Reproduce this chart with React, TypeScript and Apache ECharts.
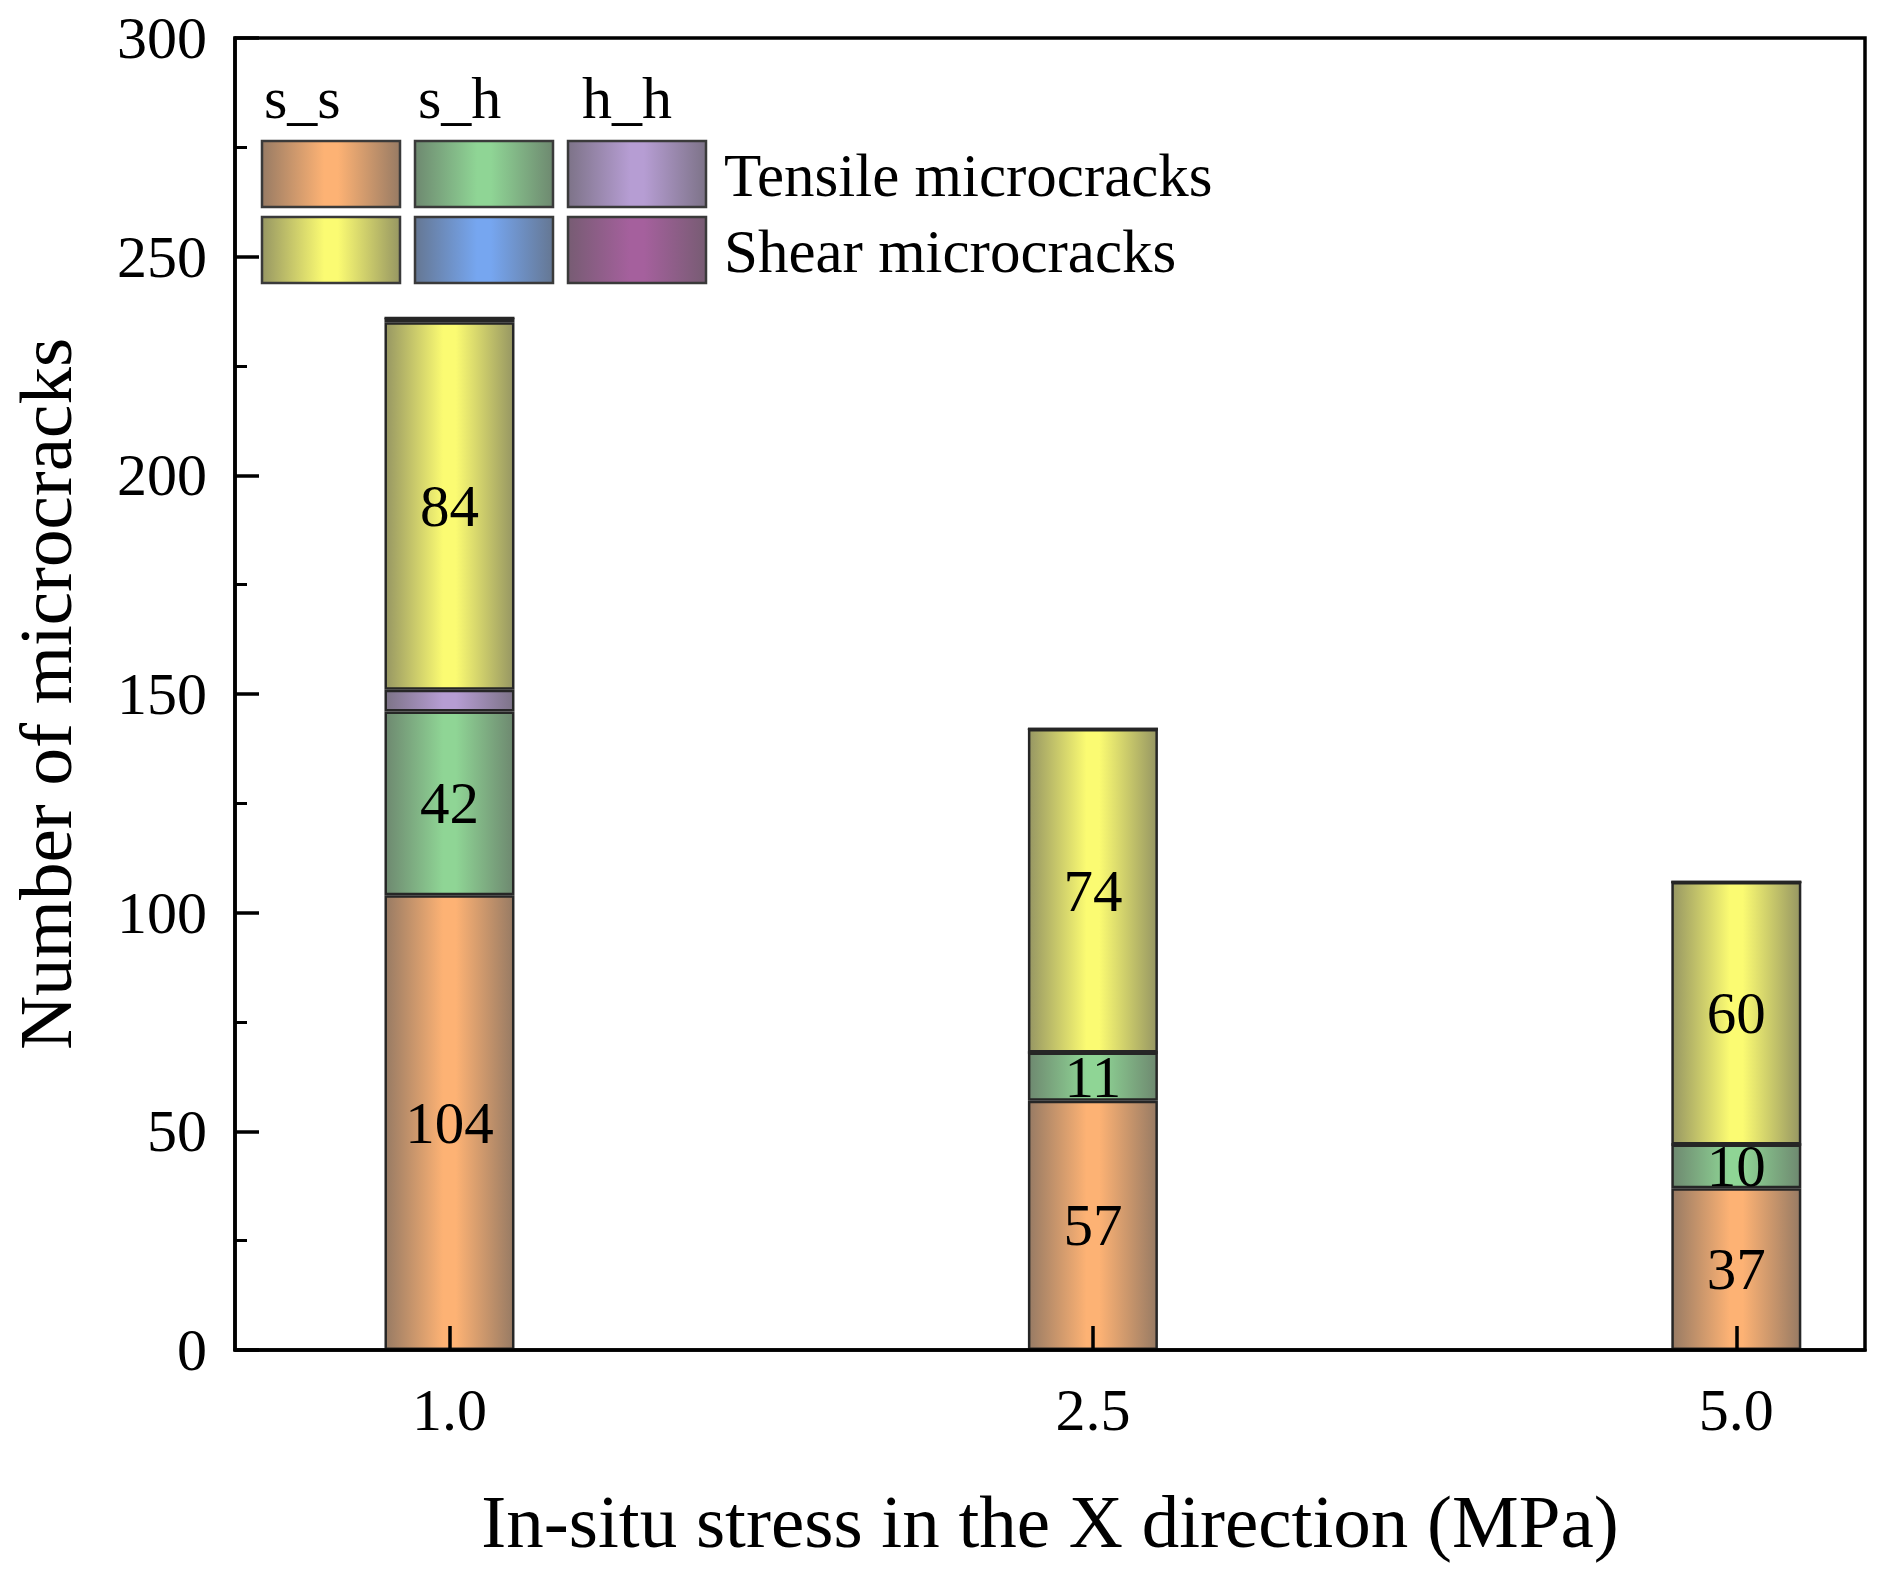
import React, { useEffect, useRef } from "react";
import * as echarts from "echarts";

const categories = ["1.0", "2.5", "5.0"];
const tensileSS = [104, 57, 37];
const tensileSH = [42, 11, 10];
const tensileHH = [5, 0, 0];
const shearSS = [84, 74, 60];
const shearSH = [1, 0, 0];
const shearHH = [0, 0, 0];
const yTicks = [0, 50, 100, 150, 200, 250, 300];
const legendCols = ["s_s", "s_h", "h_h"];
const legendRows = ["Tensile microcracks", "Shear microcracks"];

const COLORS = {
  tss: "#FDB274",
  tsh: "#8FD595",
  thh: "#B69DD3",
  sss: "#FBFB72",
  ssh: "#76A6F0",
  shh: "#A5609D",
};

const FONT = '"Liberation Serif", "Times New Roman", serif';

function mix(hex: string, other: string, t: number) {
  const p = (h: string) => [1, 3, 5].map((i) => parseInt(h.slice(i, i + 2), 16));
  const a = p(hex);
  const b = p(other);
  const c = a.map((v, i) => Math.round(v * (1 - t) + b[i] * t));
  return "#" + c.map((v) => v.toString(16).padStart(2, "0")).join("");
}

function grad(hex: string) {
  const edge = mix(hex, "#5a5a5a", 0.62);
  return new echarts.graphic.LinearGradient(0, 0, 1, 0, [
    { offset: 0, color: edge },
    { offset: 0.45, color: hex },
    { offset: 0.55, color: hex },
    { offset: 1, color: edge },
  ]);
}

export default function App() {
  const ref = useRef<HTMLDivElement>(null);
  useEffect(() => {
    if (!ref.current) return;
    const chart = echarts.init(ref.current, null, { renderer: "svg" });

    const mk = (name: string, data: number[], color: string, showLabel: boolean) => ({
      type: "bar",
      name,
      stack: "total",
      barWidth: 130,
      dimensions: ["count", "pos"],
      encode: { x: 1, y: 0 },
      data: data.map((v, i) => [v, i]),
      itemStyle: { color: grad(color), borderColor: "#262626", borderWidth: 2.5 },
      label: {
        show: showLabel,
        position: "inside",
        color: "#000",
        fontSize: 59,
        fontFamily: FONT,
        formatter: (p: any) => String(p.value[0]),
      },
      emphasis: { disabled: true },
      silent: true,
    });

    // Legend graphic
    const colX = [262, 415, 568];
    const rowY = [141, 217];
    const rw = 138;
    const rh = 66;
    const legendColors = [
      [COLORS.tss, COLORS.tsh, COLORS.thh],
      [COLORS.sss, COLORS.ssh, COLORS.shh],
    ];
    const graphics: any[] = [];
    legendRows.forEach((row, r) => {
      legendCols.forEach((_c, c) => {
        graphics.push({
          type: "rect",
          shape: { x: colX[c], y: rowY[r], width: rw, height: rh },
          style: { fill: grad(legendColors[r][c]), stroke: "#3a3a3a", lineWidth: 2.5 },
          silent: true,
        });
      });
      graphics.push({
        type: "text",
        x: 724,
        y: rowY[r] + rh / 2 + 1,
        style: {
          text: row,
          font: `61px ${FONT}`,
          fill: "#000",
          textAlign: "left",
          textVerticalAlign: "middle",
        },
      });
    });
    const headX = [264, 418, 582];
    legendCols.forEach((c, i) => {
      graphics.push({
        type: "text",
        x: headX[i],
        y: 98,
        style: {
          text: c,
          font: `60px ${FONT}`,
          fill: "#000",
          textAlign: "left",
          textVerticalAlign: "middle",
        },
      });
    });

    chart.setOption({
      animation: false,
      backgroundColor: "#fff",
      grid: {
        left: 231,
        right: 23,
        top: 38,
        bottom: 235,
        show: true,
        borderColor: "#000",
        borderWidth: 3.5,
        backgroundColor: "transparent",
      },
      xAxis: {
        type: "value",
        z: 10,
        min: -1 / 3,
        max: 2.2,
        name: "In-situ stress in the X direction (MPa)",
        nameLocation: "middle",
        nameGap: 134,
        nameTextStyle: { fontSize: 75, fontFamily: FONT, color: "#000" },
        axisLine: { show: true, onZero: false, lineStyle: { color: "#000", width: 3.5 } },
        axisTick: {
          show: true,
          inside: true,
          length: 24,
          customValues: [0, 1, 2],
          lineStyle: { color: "#000", width: 3.5 },
        },
        axisLabel: {
          customValues: [0, 1, 2],
          formatter: (v: number) => categories[Math.round(v)] ?? "",
          fontSize: 60,
          fontFamily: FONT,
          color: "#000",
          margin: 30,
        },
        splitLine: { show: false },
      },
      yAxis: {
        type: "value",
        z: 10,
        min: 0,
        max: 300,
        interval: 50,
        name: "Number of microcracks",
        nameLocation: "middle",
        nameGap: 152,
        nameTextStyle: { fontSize: 75, fontFamily: FONT, color: "#000" },
        axisLine: { show: true, onZero: false, lineStyle: { color: "#000", width: 3.5 } },
        axisTick: { show: true, inside: true, length: 24, lineStyle: { color: "#000", width: 3.5 } },
        minorTick: { show: true, splitNumber: 2, length: 12, lineStyle: { color: "#000", width: 3 } },
        axisLabel: {
          fontSize: 60,
          fontFamily: FONT,
          color: "#000",
          margin: 28,
          formatter: (v: number) => (yTicks.includes(v) ? String(v) : ""),
        },
        splitLine: { show: false },
      },
      series: [
        mk("Tensile s_s", tensileSS, COLORS.tss, true),
        mk("Tensile s_h", tensileSH, COLORS.tsh, true),
        mk("Tensile h_h", tensileHH, COLORS.thh, false),
        mk("Shear s_s", shearSS, COLORS.sss, true),
        mk("Shear s_h", shearSH, COLORS.ssh, false),
        mk("Shear h_h", shearHH, COLORS.shh, false),
      ],
      graphic: graphics,
    });
    return () => chart.dispose();
  }, []);
  return (
    <div
      ref={ref}
      style={{ position: "fixed", left: 0, top: 0, width: 1888, height: 1585, background: "#fff" }}
    />
  );
}
